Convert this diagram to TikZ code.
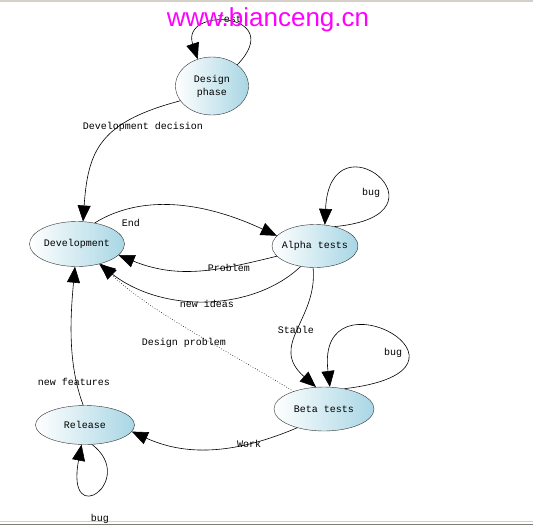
\documentclass[tikz,border=0pt]{standalone}
\usepackage{fontspec}
\setmonofont{Liberation Mono}
\setsansfont{Liberation Sans}
\usetikzlibrary{shapes.geometric,arrows.meta}
\definecolor{stateblue}{RGB}{168,214,228}
\definecolor{rim}{RGB}{50,50,50}
\definecolor{frame}{RGB}{212,208,200}
\definecolor{mark}{RGB}{255,0,255}
\tikzset{
  st/.style = {draw=rim, ellipse, left color=white, right color=stateblue, inner xsep=-3pt, inner ysep=0pt, align=center, font=\ttfamily\fontsize{10}{13}\selectfont},
  lbl/.style = {inner sep=1pt, font=\ttfamily\fontsize{10}{12}\selectfont},
  arrow/.style = {-{Triangle[length=16pt,width=13pt]}, semithick}
}
\begin{document}
\begin{tikzpicture}[x=1pt,y=-1pt]
            \useasboundingbox (0,0) rectangle (533,528);
            \draw[frame, line width=1.5pt] (0,1) -- (533,1);
            \draw[frame, line width=1pt] (0,521) -- (533,521);
            \draw[frame!60!black, line width=0.6pt] (0,524) -- (533,524);
            % states
            \node[st, minimum width=73pt, minimum height=58pt] (design) at (212,86) {Design\\phase};
            \node[st, minimum width=95pt, minimum height=45pt] (dev) at (77,244) {Development};
            \node[st, minimum width=86pt, minimum height=43pt] (alpha) at (315,246) {Alpha tests};
            \node[st, minimum width=100pt, minimum height=44pt] (beta) at (324,409) {Beta tests};
            \node[st, minimum width=99pt, minimum height=39pt] (release) at (85,425) {Release};
            % transitions
            \draw[arrow] (design.40) .. controls (288,12) and (180,6) .. (design.118);
            \draw[arrow] (design.205) .. controls (100,122) and (88,150) .. (dev.75);
            \draw[arrow] (dev.50) .. controls (140,195) and (200,200) .. (alpha.165);
            \draw[arrow] (alpha.195) .. controls (220,270) and (180,280) .. (dev.-15);
            \draw[arrow] (alpha.235) .. controls (255,310) and (165,315) .. (dev.-42);
            \draw[arrow] (alpha.45) .. controls (460,215) and (330,110) .. (alpha.65);
            \draw[arrow] (alpha.-95) .. controls (318,320) and (268,345) .. (beta.110);
            \draw[arrow] (beta.45) .. controls (505,370) and (315,265) .. (beta.75);
            \draw[arrow, dotted] (beta.150) .. controls (230,352) and (150,312) .. (dev.-40);
            \draw[arrow] (beta.-145) .. controls (240,452) and (190,458) .. (release.-8);
            \draw[arrow] (release.95) .. controls (68,365) and (70,320) .. (dev.-95);
            \draw[arrow] (release.-70) .. controls (138,480) and (65,532) .. (release.-100);
            % labels
            \node[lbl] (tTest) at (230,19) {Test};
            \node[lbl] (tDecision) at (143,127) {Development decision};
            \node[lbl] (tEnd) at (131,223) {End};
            \node[lbl] (tProblem) at (229,268) {Problem};
            \node[lbl] (tIdeas) at (207,304) {new ideas};
            \node[lbl] (tBugA) at (371,193) {bug};
            \node[lbl] (tStable) at (296,330) {Stable};
            \node[lbl] (tBugB) at (393,353) {bug};
            \node[lbl] (tDesignProb) at (184,343) {Design problem};
            \node[lbl] (tFeatures) at (74,382) {new features};
            \node[lbl] (tWork) at (249,444) {Work};
            \node[lbl] (tBugR) at (100,519) {bug};
            % watermark
            \node[anchor=base, text=mark, inner sep=0pt, font=\sffamily\fontsize{26}{26}\selectfont] (site) at (268,26) {www.bianceng.cn};
        \end{tikzpicture}
\end{document}
